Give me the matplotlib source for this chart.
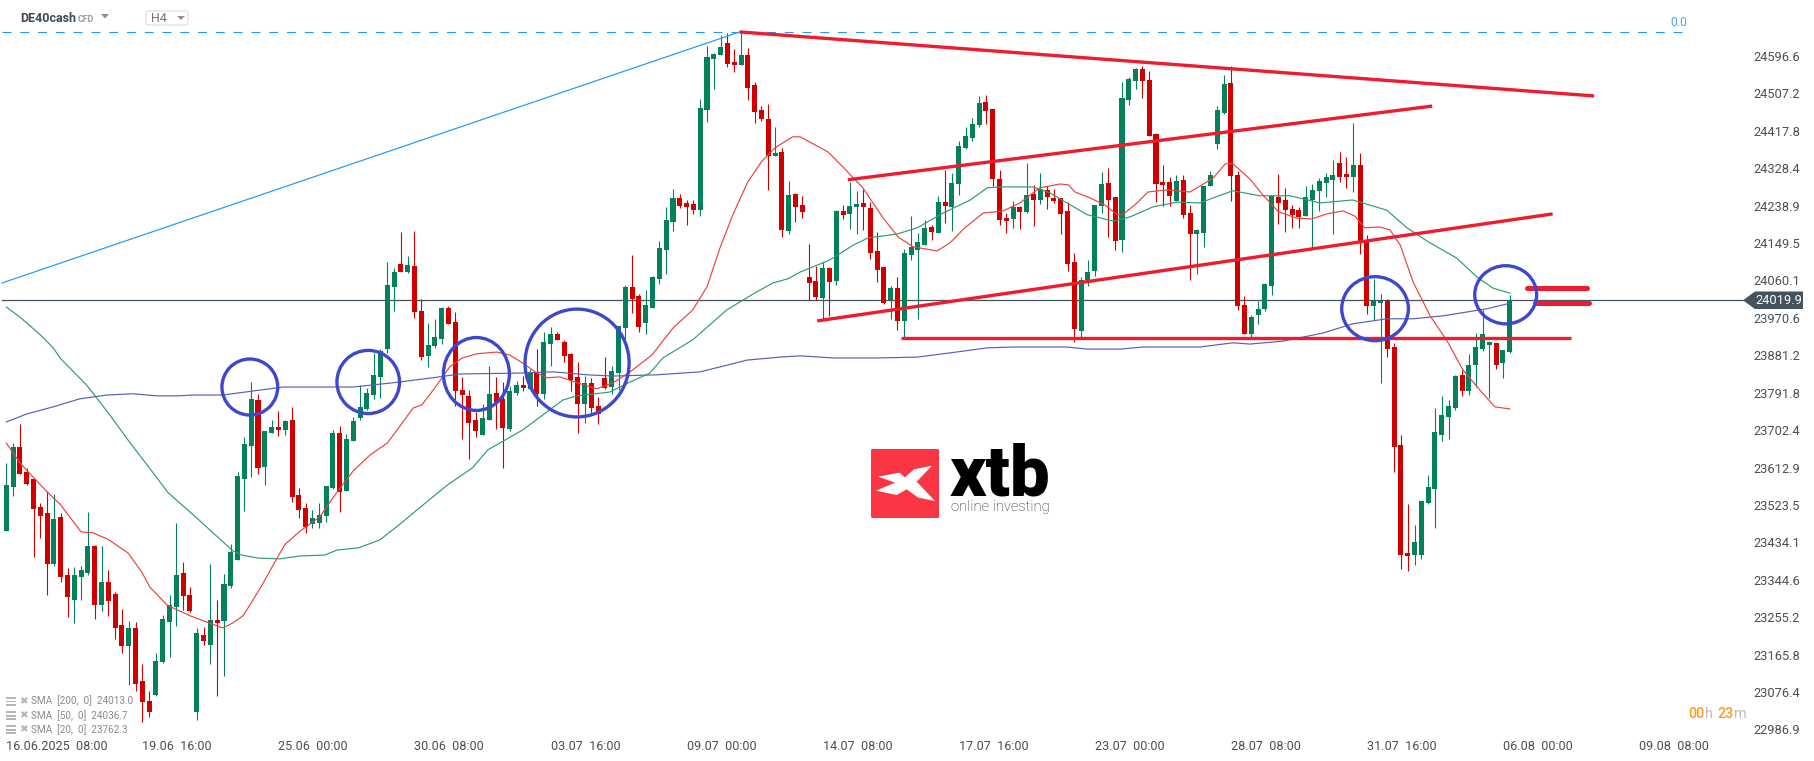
import matplotlib
matplotlib.use("Agg")
import matplotlib.pyplot as plt
from matplotlib.patches import Ellipse, Polygon, Rectangle, FancyBboxPatch
from matplotlib.transforms import Affine2D
import numpy as np

plt.rcParams["font.family"] = ["Roboto", "DejaVu Sans"]

# H4 candles
opens = [23472, 23577, 23672, 23612, 23596, 23529, 23515, 23394, 23506, 23368,
         23309, 23363, 23373, 23437, 23297, 23351, 23323, 23249, 23199, 23242,
         23116, 23069, 23083, 23161, 23256, 23292, 23373, 23320, 23043, 23225,
         23202, 23261, 23259, 23342, 23404, 23596, 23674, 23783, 23624, 23705,
         23719, 23712, 23736, 23558, 23527, 23489, 23491, 23508, 23574, 23705,
         23567, 23686, 23741, 23762, 23795, 23838, 23904, 24052, 24106, 24087,
         24101, 23995, 23888, 23912, 23928, 24002, 23969, 23807, 23793, 23736,
         23700, 23736, 23800, 23786, 23715, 23800, 23819, 23810, 23850, 23798,
         23916, 23940, 23921, 23893, 23838, 23774, 23824, 23769, 23836, 23814,
         23848, 23954, 24052, 24030, 23966, 24002, 24071, 24139, 24206, 24263,
         24251, 24249, 24234, 24472, 24593, 24602, 24631, 24586, 24579, 24602,
         24531, 24472, 24450, 24363, 24372, 24185, 24272, 24246, 24075, 24066,
         24025, 24097, 24066, 24232, 24225, 24242, 24251, 24239, 24137, 24099,
         24021, 24049, 23971, 24128, 24139, 24151, 24194, 24180, 24253, 24242,
         24296, 24382, 24405, 24436, 24491, 24474, 24308, 24215, 24213, 24242,
         24230, 24272, 24258, 24282, 24263, 24263, 24232, 24111, 23947, 24068,
         24090, 24244, 24299, 24265, 24163, 24496, 24541, 24569, 24543, 24415,
         24301, 24301, 24256, 24306, 24227, 24177, 24180, 24291, 24391, 24465,
         24536, 24318, 24009, 23940, 23985, 23999, 24054, 24265, 24258, 24237,
         24234, 24220, 24258, 24280, 24299, 24306, 24346, 24320, 24313, 24341,
         24163, 24007, 24014, 24018, 23909, 23677, 23420, 23415, 23415, 23539,
         23572, 23700, 23743, 23764, 23843, 23805, 23866, 23904, 23914, 23919,
         23871, 23897]
highs = [23634, 23681, 23726, 23622, 23596, 23539, 23567, 23560, 23515, 23385,
         23387, 23389, 23518, 23439, 23437, 23380, 23328, 23287, 23259, 23256,
         23157, 23093, 23183, 23273, 23320, 23491, 23399, 23339, 23242, 23244,
         23394, 23309, 23370, 23441, 23612, 23696, 23826, 23798, 23710, 23736,
         23757, 23736, 23767, 23574, 23539, 23522, 23539, 23579, 23712, 23722,
         23703, 23743, 23819, 23812, 23895, 23904, 24111, 24097, 24182, 24125,
         24185, 24023, 23966, 23976, 24004, 24007, 23992, 23838, 23807, 23755,
         23774, 23864, 23838, 23826, 23817, 23828, 23840, 23857, 23904, 23945,
         23957, 23945, 23926, 23895, 23874, 23840, 23836, 23791, 23885, 23864,
         23959, 24056, 24128, 24035, 24044, 24078, 24161, 24242, 24284, 24272,
         24258, 24258, 24498, 24624, 24607, 24650, 24655, 24617, 24657, 24619,
         24538, 24481, 24486, 24431, 24382, 24303, 24275, 24268, 24154, 24101,
         24111, 24099, 24234, 24246, 24301, 24280, 24284, 24253, 24182, 24099,
         24054, 24075, 24142, 24220, 24180, 24211, 24199, 24268, 24329, 24322,
         24398, 24431, 24453, 24505, 24507, 24474, 24329, 24227, 24256, 24244,
         24346, 24294, 24322, 24291, 24284, 24263, 24253, 24132, 24075, 24116,
         24246, 24325, 24334, 24265, 24538, 24550, 24572, 24576, 24564, 24417,
         24341, 24313, 24318, 24318, 24246, 24189, 24291, 24327, 24481, 24555,
         24576, 24327, 24030, 23985, 24018, 24061, 24268, 24320, 24287, 24246,
         24242, 24291, 24296, 24310, 24322, 24353, 24372, 24360, 24441, 24370,
         24175, 24071, 24035, 24023, 23919, 23700, 23537, 23487, 23544, 23605,
         23764, 23793, 23783, 23843, 23855, 23893, 23942, 23997, 23923, 23919,
         23902, 24033]
lows = [23472, 23555, 23608, 23582, 23411, 23456, 23320, 23389, 23351, 23268,
        23254, 23309, 23368, 23263, 23282, 23271, 23216, 23183, 23107, 23093,
        23019, 23031, 23081, 23159, 23173, 23247, 23285, 23280, 23024, 23202,
        23157, 23081, 23128, 23337, 23404, 23520, 23601, 23608, 23582, 23705,
        23698, 23700, 23541, 23503, 23468, 23479, 23479, 23494, 23572, 23518,
        23567, 23686, 23736, 23760, 23786, 23788, 23895, 23995, 24087, 24085,
        23978, 23878, 23862, 23907, 23916, 23964, 23769, 23691, 23643, 23696,
        23700, 23736, 23715, 23622, 23710, 23795, 23805, 23810, 23769, 23786,
        23864, 23926, 23874, 23805, 23705, 23729, 23753, 23726, 23810, 23798,
        23807, 23928, 23990, 23945, 23940, 24002, 24059, 24083, 24185, 24239,
        24199, 24225, 24220, 24443, 24522, 24602, 24574, 24562, 24579, 24496,
        24441, 24446, 24282, 24363, 24170, 24177, 24206, 24215, 24021, 24021,
        23973, 23983, 24056, 24213, 24189, 24177, 24187, 24118, 24063, 24011,
        23976, 23950, 23933, 24116, 23976, 24151, 24163, 24180, 24204, 24185,
        24270, 24379, 24398, 24431, 24439, 24291, 24199, 24180, 24192, 24189,
        24227, 24196, 24249, 24237, 24251, 24177, 24090, 23921, 23933, 24054,
        24078, 24227, 24170, 24139, 24135, 24484, 24522, 24500, 24410, 24253,
        24244, 24244, 24256, 24215, 24068, 24083, 24147, 24291, 24379, 24462,
        24256, 23997, 23940, 23928, 23964, 23995, 24033, 24201, 24182, 24192,
        24192, 24220, 24144, 24232, 24265, 24177, 24301, 24287, 24277, 24130,
        23988, 23973, 23824, 23885, 23612, 23382, 23377, 23392, 23406, 23537,
        23480, 23686, 23691, 23760, 23793, 23795, 23814, 23900, 23788, 23857,
        23836, 23895]
closes = [23582, 23672, 23608, 23584, 23525, 23508, 23394, 23501, 23363, 23316,
          23368, 23380, 23437, 23297, 23351, 23306, 23242, 23199, 23242, 23109,
          23066, 23043, 23164, 23263, 23297, 23368, 23318, 23282, 23230, 23211,
          23261, 23254, 23347, 23423, 23603, 23679, 23786, 23622, 23710, 23719,
          23712, 23733, 23553, 23522, 23482, 23503, 23510, 23579, 23705, 23565,
          23691, 23733, 23767, 23800, 23843, 23900, 24056, 24087, 24087, 24104,
          23992, 23885, 23914, 23933, 24002, 23964, 23805, 23795, 23729, 23710,
          23741, 23798, 23779, 23717, 23805, 23819, 23812, 23850, 23798, 23921,
          23940, 23926, 23888, 23831, 23774, 23824, 23764, 23750, 23812, 23852,
          23959, 24052, 24023, 23957, 24009, 24075, 24144, 24211, 24263, 24244,
          24242, 24234, 24477, 24598, 24605, 24621, 24581, 24579, 24602, 24524,
          24467, 24450, 24363, 24370, 24187, 24270, 24242, 24230, 24061, 24028,
          24097, 24063, 24232, 24223, 24244, 24249, 24242, 24132, 24092, 24014,
          24049, 23971, 24132, 24147, 24158, 24192, 24182, 24253, 24244, 24299,
          24386, 24410, 24439, 24488, 24469, 24308, 24211, 24208, 24242, 24230,
          24270, 24258, 24284, 24265, 24256, 24225, 24106, 23952, 24068, 24087,
          24246, 24296, 24258, 24161, 24500, 24545, 24569, 24541, 24410, 24296,
          24294, 24268, 24303, 24223, 24177, 24187, 24291, 24318, 24472, 24534,
          24315, 24007, 23940, 23980, 23999, 24059, 24268, 24251, 24234, 24223,
          24218, 24265, 24282, 24303, 24313, 24318, 24313, 24313, 24341, 24158,
          24007, 24018, 24018, 23904, 23672, 23415, 23413, 23446, 23544, 23577,
          23707, 23748, 23769, 23840, 23805, 23866, 23909, 23940, 23921, 23866,
          23902, 24020]

# moving averages, read at points along each line (bar, price)
sma20_bars = [0, 2, 3.9, 6, 7.9, 11, 12.7, 14.9, 17.9, 19.9, 21.1, 23.6, 25.1, 27, 29.5, 31.8, 33.3, 34.8,
              36.1, 37.7, 39.8, 41, 43.2, 46.1, 48, 51, 53.5, 56, 57.9, 59.8, 61.1, 63, 65.2, 67, 69.2,
              72.1, 74, 75.9, 78, 79.5, 81.4, 83.9, 86.8, 89.2, 91.7, 94.9, 98, 100.9, 103, 104.9, 106.8,
              109, 111.1, 113, 115.6, 116.7, 119.2, 120.8, 123, 125.9, 128.9, 131.1, 133.3, 136.8, 138.7,
              140.9, 143.6, 146.5, 149, 151.9, 154.9, 156.1, 157.1, 159.3, 161.5, 163.3, 164.1, 166.2,
              167.8, 170.6, 174, 177.4, 179.2, 180.3, 182.8, 184.6, 187, 189.7, 191.9, 194.1, 196.5,
              198.2, 199.7, 201.9, 203.4, 204.9, 206.8, 209.3, 211.8, 214.1, 216.6, 218.8, 221]
sma20_vals = [23681, 23634, 23601, 23565, 23536, 23470, 23468, 23453, 23420, 23375, 23339, 23297, 23285,
              23271, 23256, 23242, 23254, 23271, 23304, 23347, 23408, 23441, 23472, 23506, 23551, 23615,
              23653, 23681, 23722, 23764, 23772, 23812, 23862, 23883, 23893, 23897, 23890, 23871, 23847,
              23836, 23838, 23824, 23810, 23824, 23850, 23890, 23954, 23997, 24052, 24144, 24223, 24301,
              24351, 24382, 24408, 24408, 24386, 24372, 24336, 24287, 24215, 24170, 24147, 24137, 24156,
              24192, 24227, 24232, 24251, 24287, 24296, 24294, 24277, 24263, 24246, 24223, 24223, 24251,
              24277, 24282, 24277, 24310, 24344, 24344, 24308, 24272, 24230, 24215, 24213, 24225, 24232,
              24220, 24192, 24194, 24187, 24151, 24063, 23983, 23923, 23855, 23807, 23767, 23762]
sma50_bars = [0, 2, 5, 6.9, 7.9, 11.9, 15.2, 17.9, 20.7, 23.8, 28, 31.4, 33.3, 34.6, 37, 40.2, 43.2, 46.8,
              48.6, 51.7, 54.9, 57.9, 62.3, 64.9, 68.5, 70.8, 75.9, 78.9, 81.8, 83.9, 88.7, 91.7, 94.6,
              96.5, 100.9, 105.9, 110.3, 112.7, 114.9, 116.7, 121.1, 124.5, 126.7, 130.9, 133.9, 137.7,
              141.7, 144.2, 146.1, 150.9, 153.4, 155.9, 158.9, 162.7, 165.2, 168.6, 172.1, 175.5, 177.4,
              180.3, 184.3, 188.7, 193.1, 197.9, 202.9, 205.9, 208.8, 213.2, 216.2, 218.5, 221]
sma50_vals = [24004, 23980, 23938, 23907, 23883, 23817, 23748, 23688, 23629, 23563, 23503, 23453, 23425,
              23415, 23408, 23406, 23413, 23415, 23427, 23432, 23451, 23489, 23548, 23582, 23622, 23665,
              23712, 23748, 23783, 23793, 23802, 23826, 23847, 23883, 23926, 23997, 24040, 24061, 24071,
              24087, 24116, 24151, 24168, 24177, 24192, 24227, 24258, 24287, 24289, 24289, 24275, 24251,
              24223, 24208, 24218, 24242, 24253, 24251, 24263, 24280, 24268, 24268, 24251, 24258, 24234,
              24192, 24161, 24120, 24075, 24049, 24037]
sma200_bars = [0, 3, 6.9, 10.8, 14.8, 18.6, 22.2, 25.1, 27.4, 31.8, 40.7, 51, 56.8, 62.7, 66.7, 75.1, 80.4,
               85.4, 89.2, 95.6, 102, 108.9, 113.7, 116.7, 121.5, 128, 133.9, 138.7, 144.2, 148, 155.9,
               158.9, 163.7, 167.1, 175.5, 180.3, 182.8, 187.7, 193.5, 197.9, 202.9, 206.8, 211.2, 217.7, 221]
sma200_vals = [23731, 23750, 23767, 23786, 23795, 23798, 23793, 23793, 23795, 23795, 23814, 23814, 23824,
               23836, 23845, 23847, 23850, 23843, 23840, 23843, 23850, 23878, 23885, 23888, 23883, 23883,
               23885, 23895, 23907, 23909, 23909, 23904, 23904, 23909, 23909, 23919, 23916, 23923, 23942,
               23964, 23976, 23976, 23983, 24000, 24013]

# red trend lines drawn on the chart: bar0, price0, bar1, price1
trend_lines = [(107.8, 24657, 233.4, 24505), (123.7, 24306, 209.6, 24481), (119.2, 23971, 227.3, 24225),
               (131.5, 23931, 230, 23931)]
short_lines = [(223.5, 24048, 232.3, 24048), (224.7, 24014, 232.6, 24014)]
# blue circles: bar, price, width in bars, height in price
circles = [(35.8, 23814, 8.2, 133), (53.2, 23826, 9.2, 150), (69.1, 23845, 9.7, 173),
           (83.9, 23871, 15.3, 256), (201.2, 24000, 9.8, 152), (220.4, 24033, 9.1, 138)]

x_ticks = list(range(0, 260, 20))
x_labels = ["16.06.2025  08:00", "19.06  16:00", "25.06  00:00", "30.06  08:00", "03.07  16:00", "09.07  00:00",
            "14.07  08:00", "17.07  16:00", "23.07  00:00", "28.07  08:00", "31.07  16:00", "06.08  00:00",
            "09.08  08:00"]
y_labels = ["24596.6", "24507.2", "24417.8", "24328.4", "24238.9", "24149.5", "24060.1", "23970.6", "23881.2",
            "23791.8", "23702.4", "23612.9", "23523.5", "23434.1", "23344.6", "23255.2", "23165.8", "23076.4",
            "22986.9"]
last_price = 24019.9
top_price = 24657
legend_rows = ["SMA  [200,  0]  24013.0", "SMA  [50,  0]  24036.7", "SMA  [20,  0]  23762.3"]

RED = "#d00000"
GREEN = "#04805a"
LINE_RED = "#ee1c2e"
DARK = "#44535e"

fig = plt.figure(figsize=(18.15, 7.61), dpi=100)
ax = fig.add_axes([0, 0, 1, 1])
ax.set_xlim(-6.3 / 6.803, (1815 - 6.3) / 6.803)
ax.set_ylim(24732.8 - 2.374 * 761, 24732.8)
for s in ax.spines.values():
    s.set_visible(False)

# pixel coords for the page furniture (logo, header, legend)
px = Affine2D().scale(1, -1).translate(0, 761)

# candles
bars = np.arange(len(opens))
o = np.array(opens)
h = np.array(highs)
l = np.array(lows)
c = np.array(closes)
colors = [GREEN if c[i] >= o[i] else RED for i in bars]
ax.vlines(bars, l, h, colors=colors, linewidth=0.8, zorder=2)
ax.bar(bars, np.abs(c - o), bottom=np.minimum(o, c), width=0.74, color=colors, linewidth=0, zorder=2)

# price line and fib line
ax.plot([-0.63, 255.5], [last_price, last_price], color=DARK, lw=0.9, zorder=1)
ax.plot([-0.63, 247.6], [top_price, top_price], color="#2196f3", lw=0.8, ls=(0, (8, 8)), zorder=1)
ax.plot([-0.63, 107.8], [24061, top_price], color="#2b9cf2", lw=0.9, zorder=3)
ax.text(1679, 23, "0.0", transform=px, color="#4aa8f0", fontsize=8.8, ha="center", va="center")

# averages
ax.plot(sma200_bars, sma200_vals, color="#5560b8", lw=0.85, zorder=3)
ax.plot(sma50_bars, sma50_vals, color="#2e9b74", lw=0.85, zorder=3)
ax.plot(sma20_bars, sma20_vals, color="#e8433f", lw=0.85, zorder=3)

# drawings
for t in trend_lines:
    ax.plot([t[0], t[2]], [t[1], t[3]], color=LINE_RED, lw=2.4, solid_capstyle="butt", zorder=4)
for t in short_lines:
    ax.plot([t[0], t[2]], [t[1], t[3]], color=LINE_RED, lw=3.6, solid_capstyle="round", zorder=4)
for e in circles:
    ax.add_patch(Ellipse((e[0], e[1]), e[2], e[3], fill=False, edgecolor="#3f48cc", lw=2.4, zorder=5))

# axis labels sit inside the chart
ax.set_xticks(x_ticks, labels=x_labels)
ax.tick_params(axis="x", length=0, pad=-15, labelsize=9.1, labelcolor="#4a5056")
for t in ax.get_xticklabels():
    t.set_horizontalalignment("left")
ax.yaxis.tick_right()
ax.set_yticks(24600.3 - 88.85 * np.arange(len(y_labels)), labels=y_labels)
ax.tick_params(axis="y", length=0, pad=-44.3, labelsize=9.3, labelcolor="#4a5056")

# last price tag
ax.add_patch(Polygon([(1743, 300.3), (1755, 291.5), (1803, 291.5), (1803, 309), (1755, 309)], transform=px,
                     facecolor=DARK, edgecolor="none", zorder=6))
ax.text(1755, 300.6, "24019.9", transform=px, color="white", fontsize=9.3, ha="left", va="center", zorder=7)

# header
ax.text(20, 18, "DE40cash", transform=px, color="#3e4b57", fontsize=9, fontweight="bold", va="center")
ax.text(78, 19, "CFD", transform=px, color="#9a9fa4", fontsize=6.4, fontweight="bold", va="center")
ax.add_patch(Polygon([(101, 14), (109, 14), (105, 18.5)], transform=px, facecolor="#8c9094", edgecolor="none"))
ax.add_patch(FancyBboxPatch((146, 11), 42, 14, boxstyle="round,pad=0,rounding_size=2", transform=px,
                            facecolor="white", edgecolor="#e2e2e2", lw=0.9))
ax.text(151, 19, "H4", transform=px, color="#6f7478", fontsize=9, va="center")
ax.add_patch(Polygon([(177, 16), (185, 16), (181, 20)], transform=px, facecolor="#8c9094", edgecolor="none"))

# indicator legend
for k in range(3):
    y = 701 + 14.2 * k
    for dy in (-4, -0.5, 3):
        ax.add_patch(Rectangle((6, y + dy), 10, 1.8, transform=px, facecolor="#b5b5b5", edgecolor="none"))
    ax.text(23.5, y, "\u2716", transform=px, color="#b5b5b5", fontsize=7.5, ha="center", va="center",
            family=["DejaVu Sans"])
    ax.text(31, y, legend_rows[k], transform=px, color="#8a8a8a", fontsize=7.2, va="center")

# countdown
ax.text(1688, 714, "00", transform=px, color="#ff9a1f", fontsize=10.3, fontweight="medium", va="center")
ax.text(1704.5, 714, "h", transform=px, color="#bcbcbc", fontsize=10.3, va="center")
ax.text(1717.5, 714, "23", transform=px, color="#ff9a1f", fontsize=10.3, fontweight="medium", va="center")
ax.text(1734, 714, "m", transform=px, color="#bcbcbc", fontsize=10.3, va="center")

# logo
ax.add_patch(FancyBboxPatch((871, 449), 68, 69, boxstyle="round,pad=0,rounding_size=1.5", transform=px,
                            facecolor="#fb3644", edgecolor="none", zorder=6))
mark = [(85, 140), (148, 128), (165, 142), (192, 118), (246, 107), (200, 155), (255, 213), (205, 203),
        (170, 178), (140, 195), (78, 182), (135, 158)]
ax.add_patch(Polygon([(850 + m[0] / 3, 430 + m[1] / 3) for m in mark], transform=px, facecolor="white",
                     edgecolor="none", zorder=7))
ax.text(950, 495, "xtb", transform=px, color="black", fontsize=51, fontweight="black", va="baseline", zorder=7)
ax.text(951, 506.5, "online investing", transform=px, color="#222222", fontsize=10.6, fontweight="light",
        va="center", zorder=7)

fig.savefig("out.png", dpi=100, facecolor="white")
